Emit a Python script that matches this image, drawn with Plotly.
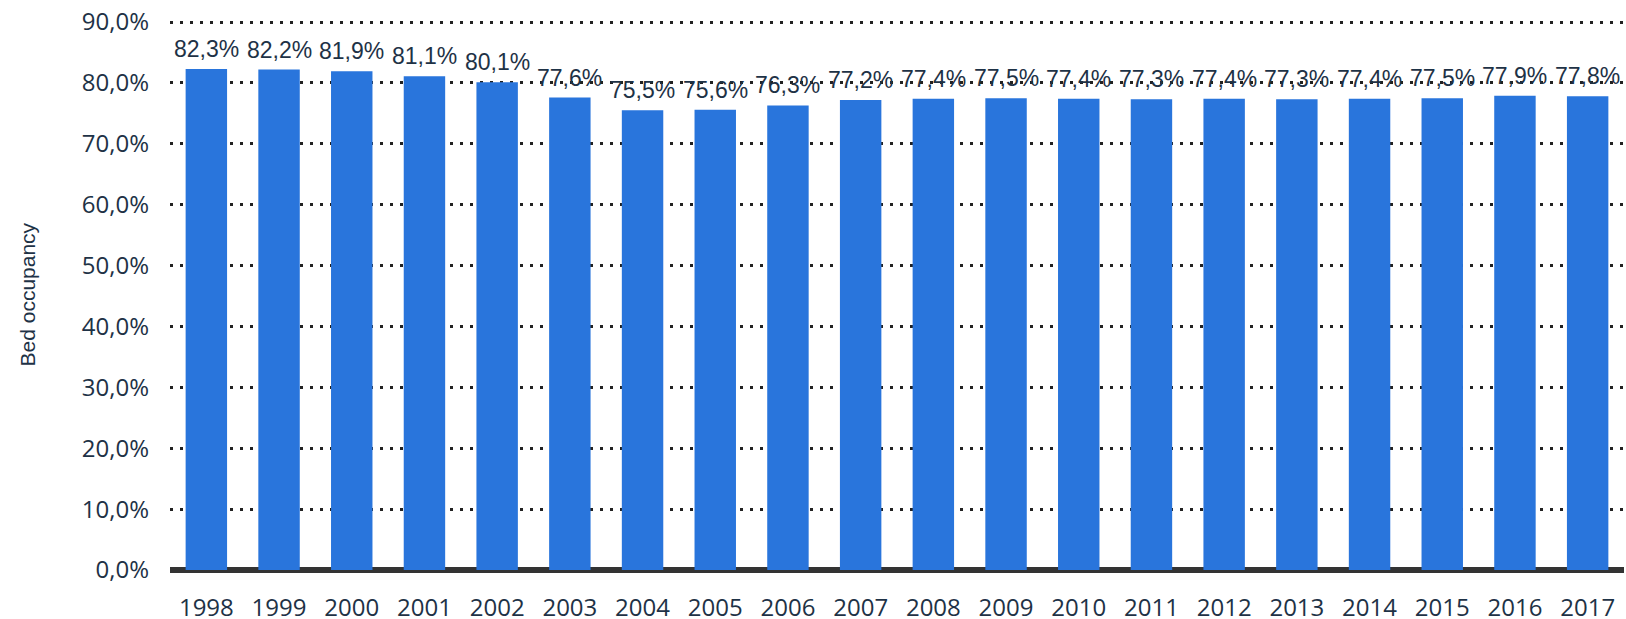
import plotly.graph_objects as go

years = [str(y) for y in range(1998, 2018)]
occupancy = [82.3, 82.2, 81.9, 81.1, 80.1, 77.6, 75.5, 75.6, 76.3, 77.2,
             77.4, 77.5, 77.4, 77.3, 77.4, 77.3, 77.4, 77.5, 77.9, 77.8]
y_ticks = [0, 10, 20, 30, 40, 50, 60, 70, 80, 90]
y_tick_labels = [f"{v:.1f}%".replace(".", ",") for v in y_ticks]
value_labels = [f"{v:.1f}%".replace(".", ",") for v in occupancy]
positions = list(range(len(years)))

W, H = 1626, 619
ML, MR, MT, MB = 170, 2, 19, 49
plot_w = W - ML - MR

label_font = dict(family="Liberation Sans Narrow, Arial Narrow, Liberation Sans", size=23, color="#1e3246")

fig = go.Figure()
fig.add_trace(go.Bar(
    x=positions, y=occupancy,
    marker=dict(color="#2975dc", line=dict(width=0)),
    hoverinfo="skip",
))

for x, v, t in zip(positions, occupancy, value_labels):
    fig.add_annotation(
        x=x, y=v, text=t, showarrow=False, yanchor="bottom", yshift=5,
        font=label_font,
    )

fig.add_annotation(
    xref="paper", yref="paper", x=-(170 - 27) / plot_w, y=0.5,
    text="Bed occupancy", textangle=-90, showarrow=False,
    xanchor="center", yanchor="middle",
    font=dict(family="Liberation Sans Narrow, Arial Narrow, Liberation Sans", size=21, color="#1e3246"),
)

fig.update_layout(
    width=W, height=H,
    margin=dict(l=ML, r=MR, t=MT, b=MB, autoexpand=False),
    paper_bgcolor="white", plot_bgcolor="white",
    bargap=0.43,
    showlegend=False,
    hovermode=False,
    font=dict(family="Open Sans", color="#1e3246"),
)
fig.update_xaxes(
    range=[-0.5, len(years) - 0.5],
    tickvals=positions, ticktext=years,
    showgrid=False, showline=False, zeroline=False,
    tickfont=dict(family="Open Sans", size=24, color="#1e3246"),
    ticklabelstandoff=21,
    ticklabeloverflow="allow",
    automargin=False,
)
fig.update_yaxes(
    range=[0, 90.5],
    tickvals=y_ticks, ticktext=y_tick_labels,
    tickfont=dict(family="Open Sans", size=24, color="#1e3246"),
    showgrid=True, gridcolor="#222222", gridwidth=3, griddash="3px,7px",
    zeroline=True, zerolinecolor="#333333", zerolinewidth=6,
    showline=False,
    ticklabelstandoff=20,
    ticklabeloverflow="allow",
    automargin=False,
)

fig.write_html(
    "out.html",
    config={"displayModeBar": False},
    post_script="document.body.style.margin='0px';document.body.style.overflow='hidden';",
)
